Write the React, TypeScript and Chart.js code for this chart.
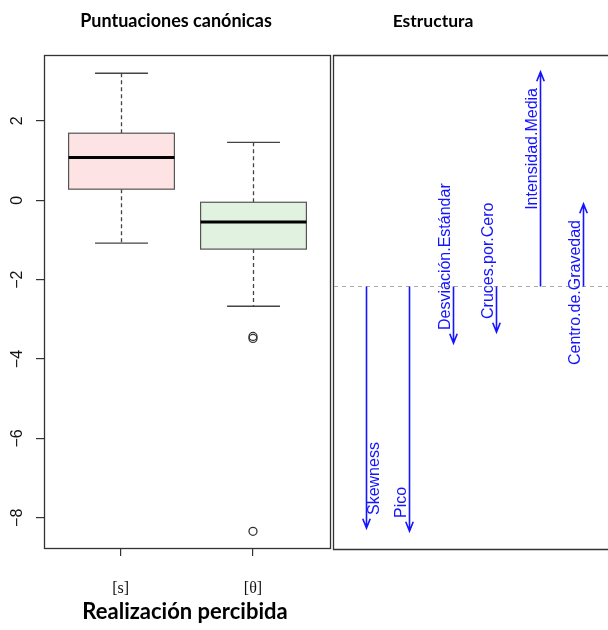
import React, { useEffect, useRef } from "react";
import { Chart, registerables } from "chart.js";

Chart.register(...registerables);

// ---------- data: left panel (boxplot of canonical scores) ----------
const groups = ["[s]", "[θ]"];
const groupPos = [1, 2];
const lowerWhisker = [-1.08, -2.67];
const lowerQuartile = [0.28, -1.23];
const medians = [1.08, -0.55];
const upperQuartile = [1.69, -0.05];
const upperWhisker = [3.2, 1.46];
const outlierGroup = [2, 2, 2];
const outlierValues = [-3.43, -3.48, -8.34];
const yTickValues = [-8, -6, -4, -2, 0, 2];

// ---------- data: right panel (structure) ----------
const variables = [
  "Skewness",
  "Pico",
  "Desviación.Estándar",
  "Cruces.por.Cero",
  "Intensidad.Media",
  "Centro.de.Gravedad",
];
const structure = [-0.968, -0.98, -0.228, -0.184, 0.856, 0.328];

const leftTitle = "Puntuaciones canónicas";
const rightTitle = "Estructura";
const xAxisTitle = "Realización percibida";

// ---------- styles ----------
const boxFills = ["#FDE3E3", "#E2F2E0"];
const frameColor = "#333";
const arrowColor = "rgb(20,20,255)";
const labelSide = [1, -1, -1, -1, -1, -1];

const boxPlugin = {
  id: "boxes",
  beforeDatasetsDraw(chart: any) {
    const { ctx, scales } = chart;
    const x = scales.x;
    const y = scales.y;
    ctx.save();
    groupPos.forEach((pos, i) => {
      const px = Math.round(x.getPixelForValue(pos)) + 0.5;
      const half = x.getPixelForValue(pos + 0.4) - x.getPixelForValue(pos);
      const yq1 = y.getPixelForValue(lowerQuartile[i]);
      const yq3 = y.getPixelForValue(upperQuartile[i]);
      const ymed = y.getPixelForValue(medians[i]);
      const ylo = y.getPixelForValue(lowerWhisker[i]);
      const yhi = y.getPixelForValue(upperWhisker[i]);
      // whiskers
      ctx.strokeStyle = "#444";
      ctx.lineWidth = 1.3;
      ctx.setLineDash([4, 3]);
      ctx.beginPath();
      ctx.moveTo(px, yq3);
      ctx.lineTo(px, yhi);
      ctx.moveTo(px, yq1);
      ctx.lineTo(px, ylo);
      ctx.stroke();
      ctx.setLineDash([]);
      // caps
      ctx.beginPath();
      ctx.moveTo(px - half / 2, yhi);
      ctx.lineTo(px + half / 2, yhi);
      ctx.moveTo(px - half / 2, ylo);
      ctx.lineTo(px + half / 2, ylo);
      ctx.stroke();
      // box
      ctx.fillStyle = boxFills[i];
      ctx.fillRect(px - half, yq3, 2 * half, yq1 - yq3);
      ctx.strokeStyle = "#555";
      ctx.lineWidth = 1.2;
      ctx.strokeRect(px - half, yq3, 2 * half, yq1 - yq3);
      // median
      ctx.strokeStyle = "#000";
      ctx.lineWidth = 3;
      ctx.beginPath();
      ctx.moveTo(px - half, ymed);
      ctx.lineTo(px + half, ymed);
      ctx.stroke();
    });
    ctx.restore();
  },
  afterDraw(chart: any) {
    const { ctx, scales, chartArea } = chart;
    const x = scales.x;
    const y = scales.y;
    ctx.save();
    // frame
    ctx.strokeStyle = frameColor;
    ctx.lineWidth = 1.3;
    ctx.strokeRect(
      Math.round(chartArea.left) + 0.5,
      Math.round(chartArea.top) + 0.5,
      Math.round(chartArea.right - chartArea.left),
      Math.round(chartArea.bottom - chartArea.top)
    );
    // y tick labels (rotated, R style)
    ctx.fillStyle = "#111";
    ctx.font = '16px "Liberation Sans", Arial, sans-serif';
    ctx.textAlign = "center";
    ctx.textBaseline = "alphabetic";
    y.ticks.forEach((t: any) => {
      const py = y.getPixelForValue(t.value);
      ctx.save();
      ctx.translate(22, py);
      ctx.rotate(-Math.PI / 2);
      ctx.fillText(String(t.value).replace("-", "\u2212"), 0, 0);
      ctx.restore();
    });
    // x tick labels
    ctx.font = '16px "Liberation Serif", "Times New Roman", serif';
    groupPos.forEach((pos, i) => {
      ctx.fillText(groups[i], x.getPixelForValue(pos), 593);
    });
    // titles
    ctx.fillStyle = "#000";
    ctx.font = 'bold 18px Lato, "Open Sans", sans-serif';
    ctx.fillText(leftTitle, 176, 27);
    ctx.font = 'bold 22px Lato, "Open Sans", sans-serif';
    ctx.fillText(xAxisTitle, 185, 619);
    ctx.restore();
  },
};

const arrowPlugin = {
  id: "arrows",
  afterDraw(chart: any) {
    const { ctx, scales, chartArea, width } = chart;
    const x = scales.x;
    const y = scales.y;
    const y0 = Math.round(y.getPixelForValue(0)) + 0.5;
    ctx.save();
    // frame (left, top, bottom)
    ctx.strokeStyle = frameColor;
    ctx.lineWidth = 1.3;
    const L = Math.round(chartArea.left) + 0.5;
    const T = Math.round(chartArea.top) + 0.5;
    const B = Math.round(chartArea.bottom) + 0.5;
    ctx.beginPath();
    ctx.moveTo(width + 2, T);
    ctx.lineTo(L, T);
    ctx.lineTo(L, B);
    ctx.lineTo(width + 2, B);
    ctx.stroke();
    // dashed reference line
    ctx.strokeStyle = "#aaa";
    ctx.lineWidth = 1;
    ctx.setLineDash([4, 4]);
    ctx.beginPath();
    ctx.moveTo(chartArea.left + 1, y0);
    ctx.lineTo(width, y0);
    ctx.stroke();
    ctx.setLineDash([]);
    // arrows
    ctx.strokeStyle = arrowColor;
    ctx.fillStyle = arrowColor;
    ctx.lineWidth = 1.6;
    ctx.font = '16px "Liberation Sans", Arial, sans-serif';
    ctx.textBaseline = "alphabetic";
    variables.forEach((name, i) => {
      const px = Math.round(x.getPixelForValue(i + 1)) + 0.5;
      const tip = y.getPixelForValue(structure[i]);
      const dir = structure[i] < 0 ? 1 : -1;
      ctx.beginPath();
      ctx.moveTo(px, y0);
      ctx.lineTo(px, tip);
      const len = 10;
      const ang = (22 * Math.PI) / 180;
      ctx.moveTo(px - len * Math.sin(ang), tip - dir * len * Math.cos(ang));
      ctx.lineTo(px, tip);
      ctx.lineTo(px + len * Math.sin(ang), tip - dir * len * Math.cos(ang));
      ctx.stroke();
      // label
      const center = px + (labelSide[i] > 0 ? 7 : -9.5);
      ctx.save();
      if (dir > 0) {
        ctx.translate(center + 5.7, tip - 13);
        ctx.rotate(-Math.PI / 2);
        ctx.textAlign = "left";
      } else {
        ctx.translate(center + 5.7, tip + 16);
        ctx.rotate(-Math.PI / 2);
        ctx.textAlign = "right";
      }
      ctx.fillText(name, 0, 0);
      ctx.restore();
    });
    // title
    ctx.fillStyle = "#000";
    ctx.textAlign = "center";
    ctx.font = 'bold 17.5px Lato, "Open Sans", sans-serif';
    ctx.fillText(rightTitle, 433 - 332, 27);
    ctx.restore();
  },
};

export default function App() {
  const leftRef = useRef<HTMLCanvasElement>(null);
  const rightRef = useRef<HTMLCanvasElement>(null);

  useEffect(() => {
    const left = new Chart(leftRef.current as HTMLCanvasElement, {
      type: "scatter",
      data: {
        datasets: [
          {
            data: outlierValues.map((v, i) => ({ x: outlierGroup[i], y: v })),
            pointRadius: 4,
            pointHoverRadius: 4,
            pointBackgroundColor: "rgba(0,0,0,0)",
            pointBorderColor: "#333",
            pointBorderWidth: 1.3,
          },
        ],
      },
      options: {
        responsive: false,
        animation: false,
        events: [],
        layout: { padding: { left: 0, top: 55, right: 2, bottom: 0 } },
        plugins: { legend: { display: false }, tooltip: { enabled: false } },
        scales: {
          x: {
            type: "linear",
            min: 0.42,
            max: 2.58,
            bounds: "data",
            afterBuildTicks: (s: any) => {
              s.ticks = groupPos.map((v) => ({ value: v }));
            },
            afterFit: (s: any) => {
              s.height = 82;
            },
            ticks: { display: false },
            grid: { drawOnChartArea: false, drawTicks: true, tickLength: 8, color: frameColor, lineWidth: 1.2 },
            border: { display: false },
          },
          y: {
            type: "linear",
            min: -8.76,
            max: 3.66,
            bounds: "data",
            afterBuildTicks: (s: any) => {
              s.ticks = yTickValues.map((v) => ({ value: v }));
            },
            afterFit: (s: any) => {
              s.width = 44;
            },
            ticks: { display: false },
            grid: { drawOnChartArea: false, drawTicks: true, tickLength: 8, color: frameColor, lineWidth: 1.2 },
            border: { display: false },
          },
        },
      } as any,
      plugins: [boxPlugin],
    });

    const right = new Chart(rightRef.current as HTMLCanvasElement, {
      type: "scatter",
      data: {
        datasets: [
          {
            data: structure.map((v, i) => ({ x: i + 1, y: v })),
            pointRadius: 0,
          },
        ],
      },
      options: {
        responsive: false,
        animation: false,
        events: [],
        layout: { padding: { left: 1, top: 55, right: 0, bottom: 81 } },
        plugins: { legend: { display: false }, tooltip: { enabled: false } },
        scales: {
          x: { type: "linear", display: false, min: 0.24, max: 6.576 },
          y: { type: "linear", display: false, min: -1.052, max: 0.924 },
        },
      } as any,
      plugins: [arrowPlugin],
    });

    return () => {
      left.destroy();
      right.destroy();
    };
  }, []);

  return (
    <div
      style={{
        position: "absolute",
        left: 0,
        top: 0,
        width: 608,
        height: 630,
        background: "#fff",
        overflow: "hidden",
      }}
    >
      <canvas
        ref={leftRef}
        width={335}
        height={630}
        style={{ position: "absolute", left: 0, top: 0, width: 335, height: 630 }}
      />
      <canvas
        ref={rightRef}
        width={276}
        height={630}
        style={{ position: "absolute", left: 332, top: 0, width: 276, height: 630 }}
      />
    </div>
  );
}
